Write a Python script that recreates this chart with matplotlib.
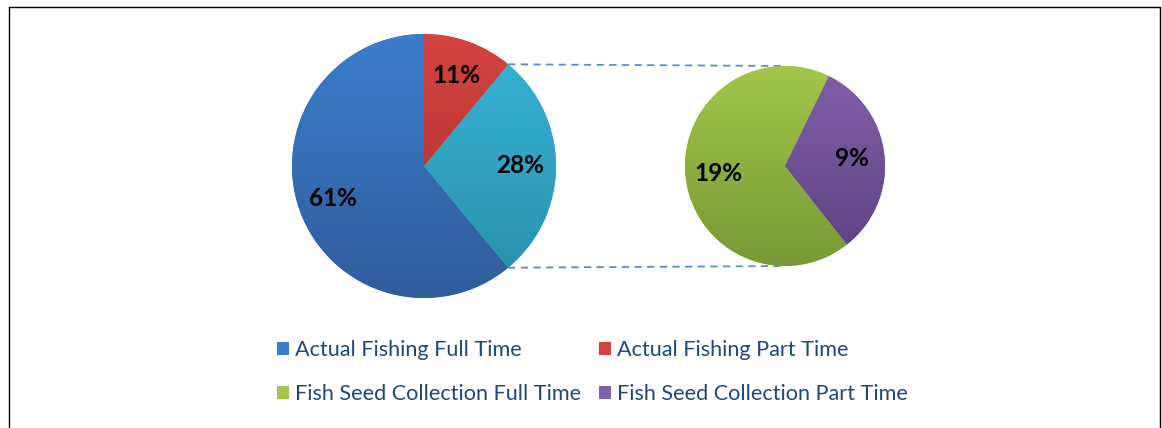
import numpy as np
import matplotlib.pyplot as plt
from matplotlib.patches import Patch
from matplotlib.colors import LinearSegmentedColormap

# main pie (counterclockwise from top)
main_labels = ['Actual Fishing Full Time', 'Fish Seed Collection', 'Actual Fishing Part Time']
main_values = [61, 28, 11]
# split of the fish seed collection slice
sub_labels = ['Fish Seed Collection Full Time', 'Fish Seed Collection Part Time']
sub_values = [19, 9]

# (top, bottom) gradient colours
grad = {
    'Actual Fishing Full Time': ('#3c7dcb', '#2f5c9b'),
    'Actual Fishing Part Time': ('#d3433f', '#a52d2d'),
    'Fish Seed Collection': ('#38b4d8', '#288fa8'),
    'Fish Seed Collection Full Time': ('#a2c64b', '#789836'),
    'Fish Seed Collection Part Time': ('#8260ac', '#5c4181'),
}

W, H = 1162, 428
fig = plt.figure(figsize=(W / 100, H / 100), dpi=100)
ax = fig.add_axes([0, 0, 1, 1])

c1, r1 = (424, H - 166), 132
c2, r2 = (785, H - 166), 100

lab_font = dict(fontsize=17.5, fontweight='bold', color='black', family='Lato')


def mid(name):
    a, b = grad[name]
    return a


def gradient_fill(wedges, names, center, radius):
    for w, n in zip(wedges, names):
        cmap = LinearSegmentedColormap.from_list('g', [grad[n][1], grad[n][0]])
        img = ax.imshow(np.linspace(0, 1, 256).reshape(-1, 1), cmap=cmap, origin='lower',
                        extent=(center[0] - radius, center[0] + radius,
                                center[1] - radius, center[1] + radius),
                        aspect='auto', zorder=2, interpolation='bilinear')
        img.set_clip_path(w)


w1, t1, a1 = ax.pie(main_values, center=c1, radius=r1, startangle=90,
                    colors=[mid(n) for n in main_labels],
                    autopct='%.0f%%', pctdistance=0.73,
                    wedgeprops=dict(linewidth=0), textprops=lab_font)
gradient_fill(w1, main_labels, c1, r1)

tot = sum(sub_values)
w2, t2, a2 = ax.pie(sub_values, center=c2, radius=r2, startangle=64,
                    colors=[mid(n) for n in sub_labels],
                    autopct=lambda p: '%.0f%%' % (p * tot / 100), pctdistance=0.67,
                    wedgeprops=dict(linewidth=0), textprops=lab_font)
gradient_fill(w2, sub_labels, c2, r2)

for t in list(a1) + list(a2):
    t.set_zorder(5)

# connector lines from the split slice to the secondary pie
teal = w1[1]
for ang, yend in [(teal.theta2, c2[1] + r2), (teal.theta1, c2[1] - r2)]:
    x0 = c1[0] + r1 * np.cos(np.radians(ang))
    y0 = c1[1] + r1 * np.sin(np.radians(ang))
    ax.plot([x0, c2[0]], [y0, yend], color='#5a8ad0', lw=1.3,
            dashes=(4, 3), zorder=1)

handles = [Patch(facecolor=mid(n), label=n) for n in
           ['Actual Fishing Full Time', 'Fish Seed Collection Full Time',
            'Actual Fishing Part Time', 'Fish Seed Collection Part Time']]
leg = ax.legend(handles=handles, ncol=2, loc='center', bbox_to_anchor=(0.51, 0.131),
                frameon=False, prop=dict(family='Lato', size=15.6), labelcolor='#1f497d',
                handlelength=0.55, handleheight=0.55, handletextpad=0.3,
                columnspacing=0.8, labelspacing=1.12)

# chart border
ax.plot([8.5, 8.5, 1159.5, 1159.5], [-5, H - 6.5, H - 6.5, -5], color='black', lw=1, zorder=6)

ax.set_xlim(0, W)
ax.set_ylim(0, H)
ax.set_aspect('auto')
ax.axis('off')

fig.savefig('out.png', dpi=100)
